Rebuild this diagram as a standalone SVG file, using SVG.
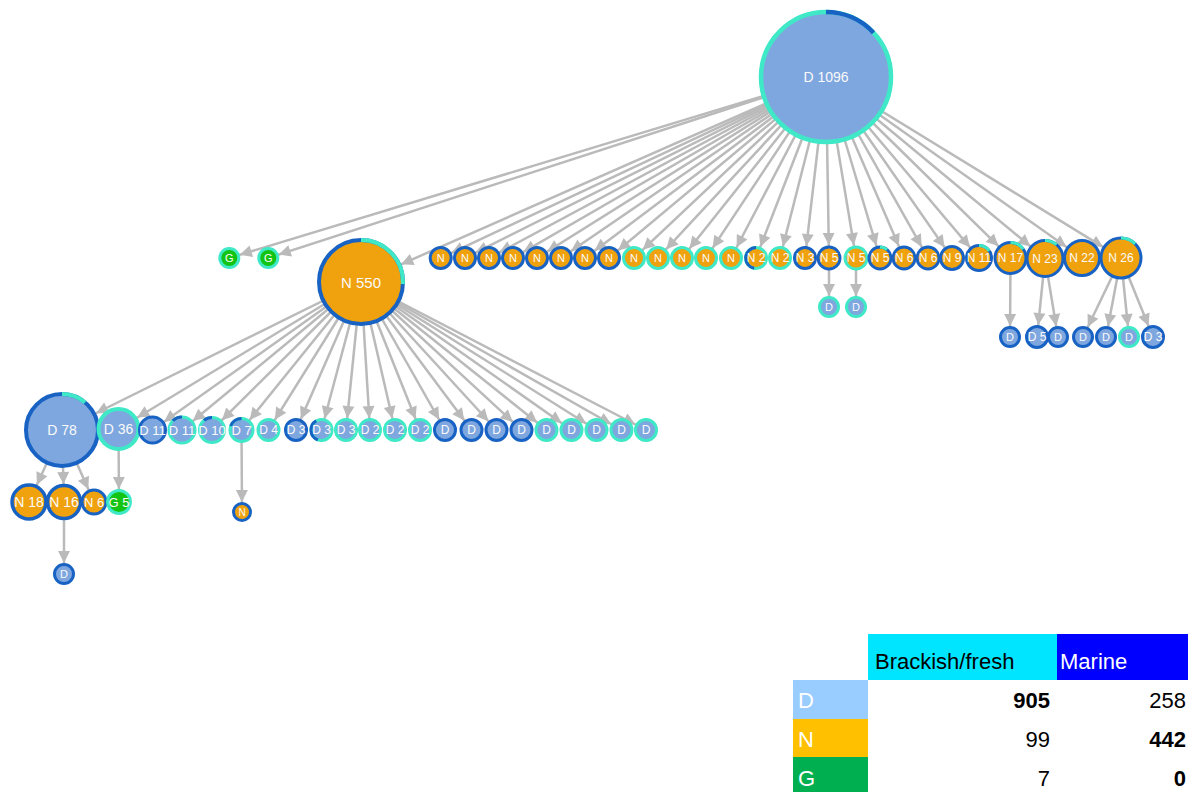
<svg xmlns="http://www.w3.org/2000/svg" width="1188" height="792" viewBox="0 0 1188 792">
<style>
.e{stroke:#bababa;stroke-width:2.5;fill:none}
.ah{fill:#bababa}
.fD{fill:#7fa7df}
.fN{fill:#f0a20e}
.fG{fill:#14c414}
circle{stroke-width:3}
.rb{stroke:#1862c4}
.rt{stroke:#3fe8c6}
.ab{fill:none;stroke:#1862c4;stroke-width:3}
.at{fill:none;stroke:#3fe8c6;stroke-width:3}
.lb{fill:#fafafa;font-family:"Liberation Sans",Arial,sans-serif;text-anchor:middle;dominant-baseline:central;font-size:12px}
.s{font-size:11px}
.m{font-size:14px}
.lg{font-family:"Liberation Sans",Arial,sans-serif;font-size:22px}
.num{text-anchor:end;fill:#000}
</style>
<defs>
<marker id="m10" markerUnits="userSpaceOnUse" markerWidth="1" markerHeight="1" refX="10" refY="0" orient="auto" overflow="visible"><path d="M-12,-6 L0,0 L-12,6 Z" class="ah"/></marker>
<marker id="m11" markerUnits="userSpaceOnUse" markerWidth="1" markerHeight="1" refX="11" refY="0" orient="auto" overflow="visible"><path d="M-12,-6 L0,0 L-12,6 Z" class="ah"/></marker>
<marker id="m12" markerUnits="userSpaceOnUse" markerWidth="1" markerHeight="1" refX="12" refY="0" orient="auto" overflow="visible"><path d="M-12,-6 L0,0 L-12,6 Z" class="ah"/></marker>
<marker id="m13" markerUnits="userSpaceOnUse" markerWidth="1" markerHeight="1" refX="13" refY="0" orient="auto" overflow="visible"><path d="M-12,-6 L0,0 L-12,6 Z" class="ah"/></marker>
<marker id="m14" markerUnits="userSpaceOnUse" markerWidth="1" markerHeight="1" refX="14" refY="0" orient="auto" overflow="visible"><path d="M-12,-6 L0,0 L-12,6 Z" class="ah"/></marker>
<marker id="m17" markerUnits="userSpaceOnUse" markerWidth="1" markerHeight="1" refX="17" refY="0" orient="auto" overflow="visible"><path d="M-12,-6 L0,0 L-12,6 Z" class="ah"/></marker>
<marker id="m18" markerUnits="userSpaceOnUse" markerWidth="1" markerHeight="1" refX="18" refY="0" orient="auto" overflow="visible"><path d="M-12,-6 L0,0 L-12,6 Z" class="ah"/></marker>
<marker id="m19" markerUnits="userSpaceOnUse" markerWidth="1" markerHeight="1" refX="19" refY="0" orient="auto" overflow="visible"><path d="M-12,-6 L0,0 L-12,6 Z" class="ah"/></marker>
<marker id="m21" markerUnits="userSpaceOnUse" markerWidth="1" markerHeight="1" refX="21" refY="0" orient="auto" overflow="visible"><path d="M-12,-6 L0,0 L-12,6 Z" class="ah"/></marker>
<marker id="m22" markerUnits="userSpaceOnUse" markerWidth="1" markerHeight="1" refX="22" refY="0" orient="auto" overflow="visible"><path d="M-12,-6 L0,0 L-12,6 Z" class="ah"/></marker>
<marker id="m38" markerUnits="userSpaceOnUse" markerWidth="1" markerHeight="1" refX="38" refY="0" orient="auto" overflow="visible"><path d="M-12,-6 L0,0 L-12,6 Z" class="ah"/></marker>
<marker id="m44" markerUnits="userSpaceOnUse" markerWidth="1" markerHeight="1" refX="44" refY="0" orient="auto" overflow="visible"><path d="M-12,-6 L0,0 L-12,6 Z" class="ah"/></marker>
</defs>
<rect width="1188" height="792" fill="#fff"/>
<g id="connectors" class="e">
<line x1="826" y1="77" x2="229.3" y2="258" marker-end="url(#m11)"/>
<line x1="826" y1="77" x2="268.3" y2="258" marker-end="url(#m11)"/>
<line x1="826" y1="77" x2="361" y2="282" marker-end="url(#m44)"/>
<line x1="826" y1="77" x2="440.7" y2="258" marker-end="url(#m12)"/>
<line x1="826" y1="77" x2="465" y2="258" marker-end="url(#m12)"/>
<line x1="826" y1="77" x2="489" y2="258" marker-end="url(#m12)"/>
<line x1="826" y1="77" x2="513" y2="258" marker-end="url(#m12)"/>
<line x1="826" y1="77" x2="537" y2="258" marker-end="url(#m12)"/>
<line x1="826" y1="77" x2="561" y2="258" marker-end="url(#m12)"/>
<line x1="826" y1="77" x2="585" y2="258" marker-end="url(#m12)"/>
<line x1="826" y1="77" x2="609" y2="258" marker-end="url(#m12)"/>
<line x1="826" y1="77" x2="634" y2="258" marker-end="url(#m12)"/>
<line x1="826" y1="77" x2="658" y2="258" marker-end="url(#m12)"/>
<line x1="826" y1="77" x2="682" y2="258" marker-end="url(#m12)"/>
<line x1="826" y1="77" x2="706" y2="258" marker-end="url(#m12)"/>
<line x1="826" y1="77" x2="731" y2="258" marker-end="url(#m12)"/>
<line x1="826" y1="77" x2="756" y2="258" marker-end="url(#m12)"/>
<line x1="826" y1="77" x2="780" y2="258" marker-end="url(#m12)"/>
<line x1="826" y1="77" x2="805" y2="258" marker-end="url(#m12)"/>
<line x1="826" y1="77" x2="829" y2="258" marker-end="url(#m13)"/>
<line x1="826" y1="77" x2="856" y2="258" marker-end="url(#m13)"/>
<line x1="826" y1="77" x2="880" y2="258" marker-end="url(#m13)"/>
<line x1="826" y1="77" x2="904" y2="258" marker-end="url(#m13)"/>
<line x1="826" y1="77" x2="928" y2="258" marker-end="url(#m13)"/>
<line x1="826" y1="77" x2="952" y2="258" marker-end="url(#m13)"/>
<line x1="826" y1="77" x2="979" y2="258" marker-end="url(#m14)"/>
<line x1="826" y1="77" x2="1010.5" y2="258" marker-end="url(#m17)"/>
<line x1="826" y1="77" x2="1045" y2="258.5" marker-end="url(#m19)"/>
<line x1="826" y1="77" x2="1082" y2="258" marker-end="url(#m19)"/>
<line x1="826" y1="77" x2="1121" y2="258" marker-end="url(#m21)"/>
<line x1="829" y1="258" x2="829" y2="307" marker-end="url(#m11)"/>
<line x1="856" y1="258" x2="856" y2="307" marker-end="url(#m11)"/>
<line x1="1010.5" y1="258" x2="1010" y2="337" marker-end="url(#m11)"/>
<line x1="1045" y1="258.5" x2="1037" y2="337" marker-end="url(#m12)"/>
<line x1="1045" y1="258.5" x2="1058" y2="337" marker-end="url(#m11)"/>
<line x1="1121" y1="258" x2="1083" y2="337" marker-end="url(#m11)"/>
<line x1="1121" y1="258" x2="1106" y2="337" marker-end="url(#m11)"/>
<line x1="1121" y1="258" x2="1129" y2="337" marker-end="url(#m11)"/>
<line x1="1121" y1="258" x2="1153" y2="337" marker-end="url(#m12)"/>
<line x1="361" y1="282" x2="62" y2="430" marker-end="url(#m38)"/>
<line x1="361" y1="282" x2="118.5" y2="429" marker-end="url(#m22)"/>
<line x1="361" y1="282" x2="152.5" y2="430" marker-end="url(#m14)"/>
<line x1="361" y1="282" x2="182" y2="430" marker-end="url(#m14)"/>
<line x1="361" y1="282" x2="212" y2="430" marker-end="url(#m14)"/>
<line x1="361" y1="282" x2="241.5" y2="430" marker-end="url(#m13)"/>
<line x1="361" y1="282" x2="268.5" y2="430" marker-end="url(#m12)"/>
<line x1="361" y1="282" x2="296" y2="430" marker-end="url(#m12)"/>
<line x1="361" y1="282" x2="321.5" y2="430" marker-end="url(#m12)"/>
<line x1="361" y1="282" x2="346" y2="430" marker-end="url(#m12)"/>
<line x1="361" y1="282" x2="370" y2="430" marker-end="url(#m12)"/>
<line x1="361" y1="282" x2="395" y2="430" marker-end="url(#m12)"/>
<line x1="361" y1="282" x2="420" y2="430" marker-end="url(#m12)"/>
<line x1="361" y1="282" x2="445" y2="430" marker-end="url(#m12)"/>
<line x1="361" y1="282" x2="471.5" y2="430" marker-end="url(#m12)"/>
<line x1="361" y1="282" x2="496.5" y2="430" marker-end="url(#m12)"/>
<line x1="361" y1="282" x2="521.5" y2="430" marker-end="url(#m12)"/>
<line x1="361" y1="282" x2="546.5" y2="430" marker-end="url(#m12)"/>
<line x1="361" y1="282" x2="571.5" y2="430" marker-end="url(#m12)"/>
<line x1="361" y1="282" x2="596.5" y2="430" marker-end="url(#m12)"/>
<line x1="361" y1="282" x2="621.5" y2="430" marker-end="url(#m12)"/>
<line x1="361" y1="282" x2="646" y2="430" marker-end="url(#m12)"/>
<line x1="62" y1="430" x2="29" y2="502" marker-end="url(#m19)"/>
<line x1="62" y1="430" x2="64" y2="502" marker-end="url(#m18)"/>
<line x1="62" y1="430" x2="94" y2="502" marker-end="url(#m14)"/>
<line x1="118.5" y1="429" x2="119" y2="502" marker-end="url(#m13)"/>
<line x1="64" y1="502" x2="64" y2="574" marker-end="url(#m11)"/>
<line x1="241.5" y1="430" x2="242" y2="512" marker-end="url(#m10)"/>
</g>
<g id="node-d1096"><circle cx="826" cy="77" r="65" class="fD rt" style="stroke-width:4.5"/><path d="M826,12 A65,65 0 0 1 873.5,32.7" class="ab" style="stroke-width:4.5"/><text x="826" y="77" class="lb m">D 1096</text></g>
<g id="node-g1"><circle cx="229.3" cy="258" r="9.5" class="fG rt"/><text x="229.3" y="258" class="lb s">G</text></g>
<g id="node-g2"><circle cx="268.3" cy="258" r="9.5" class="fG rt"/><text x="268.3" y="258" class="lb s">G</text></g>
<g id="node-n550"><circle cx="361" cy="282" r="42" class="fN rb" style="stroke-width:4"/><path d="M361,240 A42,42 0 0 1 402.9,284.2" class="at" style="stroke-width:4"/><text x="361" y="282" class="lb" style="font-size:15px">N 550</text></g>
<g id="node-t1"><circle cx="440.7" cy="258" r="10.5" class="fN rb"/><text x="440.7" y="258" class="lb s">N</text></g>
<g id="node-t2"><circle cx="465" cy="258" r="10.5" class="fN rb"/><text x="465" y="258" class="lb s">N</text></g>
<g id="node-t3"><circle cx="489" cy="258" r="10.5" class="fN rb"/><text x="489" y="258" class="lb s">N</text></g>
<g id="node-t4"><circle cx="513" cy="258" r="10.5" class="fN rb"/><text x="513" y="258" class="lb s">N</text></g>
<g id="node-t5"><circle cx="537" cy="258" r="10.5" class="fN rb"/><text x="537" y="258" class="lb s">N</text></g>
<g id="node-t6"><circle cx="561" cy="258" r="10.5" class="fN rb"/><text x="561" y="258" class="lb s">N</text></g>
<g id="node-t7"><circle cx="585" cy="258" r="10.5" class="fN rb"/><text x="585" y="258" class="lb s">N</text></g>
<g id="node-t8"><circle cx="609" cy="258" r="10.5" class="fN rb"/><text x="609" y="258" class="lb s">N</text></g>
<g id="node-t9"><circle cx="634" cy="258" r="10.5" class="fN rt"/><text x="634" y="258" class="lb s">N</text></g>
<g id="node-t10"><circle cx="658" cy="258" r="10.5" class="fN rt"/><text x="658" y="258" class="lb s">N</text></g>
<g id="node-t11"><circle cx="682" cy="258" r="10.5" class="fN rt"/><text x="682" y="258" class="lb s">N</text></g>
<g id="node-t12"><circle cx="706" cy="258" r="10.5" class="fN rt"/><text x="706" y="258" class="lb s">N</text></g>
<g id="node-t13"><circle cx="731" cy="258" r="10.5" class="fN rt"/><text x="731" y="258" class="lb s">N</text></g>
<g id="node-t14"><circle cx="756" cy="258" r="10.5" class="fN rt"/><path d="M754.2,268.3 A10.5,10.5 0 0 1 756,247.5" class="ab"/><text x="756" y="258" class="lb">N 2</text></g>
<g id="node-t15"><circle cx="780" cy="258" r="10.5" class="fN rt"/><text x="780" y="258" class="lb">N 2</text></g>
<g id="node-t16"><circle cx="805" cy="258" r="10.5" class="fN rb"/><text x="805" y="258" class="lb">N 3</text></g>
<g id="node-t17"><circle cx="829" cy="258" r="11" class="fN rb"/><text x="829" y="258" class="lb">N 5</text></g>
<g id="node-t18"><circle cx="856" cy="258" r="11" class="fN rt"/><text x="856" y="258" class="lb">N 5</text></g>
<g id="node-t19"><circle cx="880" cy="258" r="11" class="fN rb"/><path d="M880,247 A11,11 0 0 1 887.1,249.6" class="at"/><text x="880" y="258" class="lb">N 5</text></g>
<g id="node-t20"><circle cx="904" cy="258" r="11" class="fN rb"/><text x="904" y="258" class="lb">N 6</text></g>
<g id="node-t21"><circle cx="928" cy="258" r="11" class="fN rb"/><text x="928" y="258" class="lb">N 6</text></g>
<g id="node-t22"><circle cx="952" cy="258" r="11.5" class="fN rb"/><text x="952" y="258" class="lb">N 9</text></g>
<g id="node-t23"><circle cx="979" cy="258" r="12.5" class="fN rb"/><path d="M979,245.5 A12.5,12.5 0 0 1 989.2,250.8" class="at"/><text x="979" y="258" class="lb">N 11</text></g>
<g id="node-t24"><circle cx="1010.5" cy="258" r="15.5" class="fN rb"/><path d="M1010.5,242.5 A15.5,15.5 0 0 1 1023.2,249.1" class="at"/><text x="1010.5" y="258" class="lb">N 17</text></g>
<g id="node-t25"><circle cx="1045" cy="258.5" r="18" class="fN rb"/><path d="M1045,240.5 A18,18 0 0 1 1056.6,244.7" class="at"/><text x="1045" y="258.5" class="lb">N 23</text></g>
<g id="node-t26"><circle cx="1082" cy="258" r="17.5" class="fN rb"/><text x="1082" y="258" class="lb">N 22</text></g>
<g id="node-t27"><circle cx="1121" cy="258" r="20" class="fN rb"/><path d="M1121,238 A20,20 0 0 1 1135.1,243.9" class="at"/><text x="1121" y="258" class="lb">N 26</text></g>
<g id="node-c1"><circle cx="829" cy="307" r="9.5" class="fD rt"/><text x="829" y="307" class="lb s">D</text></g>
<g id="node-c2"><circle cx="856" cy="307" r="9.5" class="fD rt"/><text x="856" y="307" class="lb s">D</text></g>
<g id="node-c3"><circle cx="1010" cy="337" r="9.5" class="fD rb"/><text x="1010" y="337" class="lb s">D</text></g>
<g id="node-c4"><circle cx="1037" cy="337" r="10.5" class="fD rb"/><text x="1037" y="337" class="lb">D 5</text></g>
<g id="node-c5"><circle cx="1058" cy="337" r="9.5" class="fD rb"/><text x="1058" y="337" class="lb s">D</text></g>
<g id="node-c6"><circle cx="1083" cy="337" r="9.5" class="fD rb"/><text x="1083" y="337" class="lb s">D</text></g>
<g id="node-c7"><circle cx="1106" cy="337" r="9.5" class="fD rb"/><text x="1106" y="337" class="lb s">D</text></g>
<g id="node-c8"><circle cx="1129" cy="337" r="9.5" class="fD rt"/><text x="1129" y="337" class="lb s">D</text></g>
<g id="node-c9"><circle cx="1153" cy="337" r="10.5" class="fD rb"/><text x="1153" y="337" class="lb">D 3</text></g>
<g id="node-d78"><circle cx="62" cy="430" r="36" class="fD rb" style="stroke-width:4"/><path d="M62,394 A36,36 0 0 1 85.1,402.4" class="at" style="stroke-width:4"/><text x="62" y="430" class="lb m">D 78</text></g>
<g id="node-d36"><circle cx="118.5" cy="429" r="20" class="fD rt" style="stroke-width:4"/><text x="118.5" y="429" class="lb m">D 36</text></g>
<g id="node-r3"><circle cx="152.5" cy="430" r="13" class="fD rb"/><text x="152.5" y="430" class="lb" style="font-size:13px">D 11</text></g>
<g id="node-r4"><circle cx="182" cy="430" r="13" class="fD rt"/><path d="M172.8,420.8 A13,13 0 0 1 182,417" class="ab"/><text x="182" y="430" class="lb" style="font-size:13px">D 11</text></g>
<g id="node-r5"><circle cx="212" cy="430" r="12.5" class="fD rt"/><path d="M204,420.4 A12.5,12.5 0 0 1 212,417.5" class="ab"/><text x="212" y="430" class="lb" style="font-size:13px">D 10</text></g>
<g id="node-r6"><circle cx="241.5" cy="430" r="11.5" class="fD rt"/><path d="M230.7,426.1 A11.5,11.5 0 0 1 241.5,418.5" class="ab"/><text x="241.5" y="430" class="lb" style="font-size:13px">D 7</text></g>
<g id="node-r7"><circle cx="268.5" cy="430" r="10.5" class="fD rt"/><text x="268.5" y="430" class="lb">D 4</text></g>
<g id="node-r8"><circle cx="296" cy="430" r="10.5" class="fD rb"/><text x="296" y="430" class="lb">D 3</text></g>
<g id="node-r9"><circle cx="321.5" cy="430" r="10.5" class="fD rt"/><path d="M317.9,439.9 A10.5,10.5 0 0 1 316.25,420.9" class="ab"/><text x="321.5" y="430" class="lb">D 3</text></g>
<g id="node-r10"><circle cx="346" cy="430" r="10.5" class="fD rt"/><text x="346" y="430" class="lb">D 3</text></g>
<g id="node-r11"><circle cx="370" cy="430" r="10.5" class="fD rt"/><text x="370" y="430" class="lb">D 2</text></g>
<g id="node-r12"><circle cx="395" cy="430" r="10.5" class="fD rt"/><text x="395" y="430" class="lb">D 2</text></g>
<g id="node-r13"><circle cx="420" cy="430" r="10.5" class="fD rt"/><text x="420" y="430" class="lb">D 2</text></g>
<g id="node-r14"><circle cx="445" cy="430" r="10.5" class="fD rb"/><text x="445" y="430" class="lb">D</text></g>
<g id="node-r15"><circle cx="471.5" cy="430" r="10.5" class="fD rb"/><text x="471.5" y="430" class="lb">D</text></g>
<g id="node-r16"><circle cx="496.5" cy="430" r="10.5" class="fD rb"/><text x="496.5" y="430" class="lb">D</text></g>
<g id="node-r17"><circle cx="521.5" cy="430" r="10.5" class="fD rb"/><text x="521.5" y="430" class="lb">D</text></g>
<g id="node-r18"><circle cx="546.5" cy="430" r="10.5" class="fD rt"/><text x="546.5" y="430" class="lb">D</text></g>
<g id="node-r19"><circle cx="571.5" cy="430" r="10.5" class="fD rt"/><text x="571.5" y="430" class="lb">D</text></g>
<g id="node-r20"><circle cx="596.5" cy="430" r="10.5" class="fD rt"/><text x="596.5" y="430" class="lb">D</text></g>
<g id="node-r21"><circle cx="621.5" cy="430" r="10.5" class="fD rt"/><text x="621.5" y="430" class="lb">D</text></g>
<g id="node-r22"><circle cx="646" cy="430" r="10.5" class="fD rt"/><text x="646" y="430" class="lb">D</text></g>
<g id="node-n18"><circle cx="29" cy="502" r="17" class="fN rb" style="stroke-width:3.5"/><text x="29" y="502" class="lb m">N 18</text></g>
<g id="node-n16"><circle cx="64" cy="502" r="16.5" class="fN rb" style="stroke-width:3.5"/><text x="64" y="502" class="lb m">N 16</text></g>
<g id="node-n6"><circle cx="94" cy="502" r="12" class="fN rb"/><text x="94" y="502" class="lb" style="font-size:13px">N 6</text></g>
<g id="node-g5"><circle cx="119" cy="502" r="11.5" class="fG rt"/><text x="119" y="502" class="lb" style="font-size:13px">G 5</text></g>
<g id="node-d-b"><circle cx="64" cy="574" r="9.5" class="fD rb"/><text x="64" y="574" class="lb s">D</text></g>
<g id="node-n-b"><circle cx="242" cy="512" r="8.5" class="fN rb"/><text x="242" y="512" class="lb" style="font-size:10px">N</text></g>
<g id="legend" class="lg">
<rect x="868" y="634" width="189" height="46" fill="#00e5ff"/>
<rect x="1057" y="634" width="131" height="46" fill="#0000ff"/>
<text x="875" y="669" fill="#000">Brackish/fresh</text>
<text x="1060" y="669" fill="#fff">Marine</text>
<rect x="793" y="680" width="75" height="39" fill="#99ccff"/>
<rect x="793" y="719" width="75" height="38" fill="#ffc000"/>
<rect x="793" y="757" width="75" height="35" fill="#00b050"/>
<text x="798" y="708" fill="#fff">D</text>
<text x="798" y="747" fill="#fff">N</text>
<text x="798" y="786" fill="#fff">G</text>
<text x="1050" y="708" class="num" font-weight="bold">905</text>
<text x="1186" y="708" class="num">258</text>
<text x="1050" y="747" class="num">99</text>
<text x="1186" y="747" class="num" font-weight="bold">442</text>
<text x="1050" y="786" class="num">7</text>
<text x="1186" y="786" class="num" font-weight="bold">0</text>
</g>
</svg>
